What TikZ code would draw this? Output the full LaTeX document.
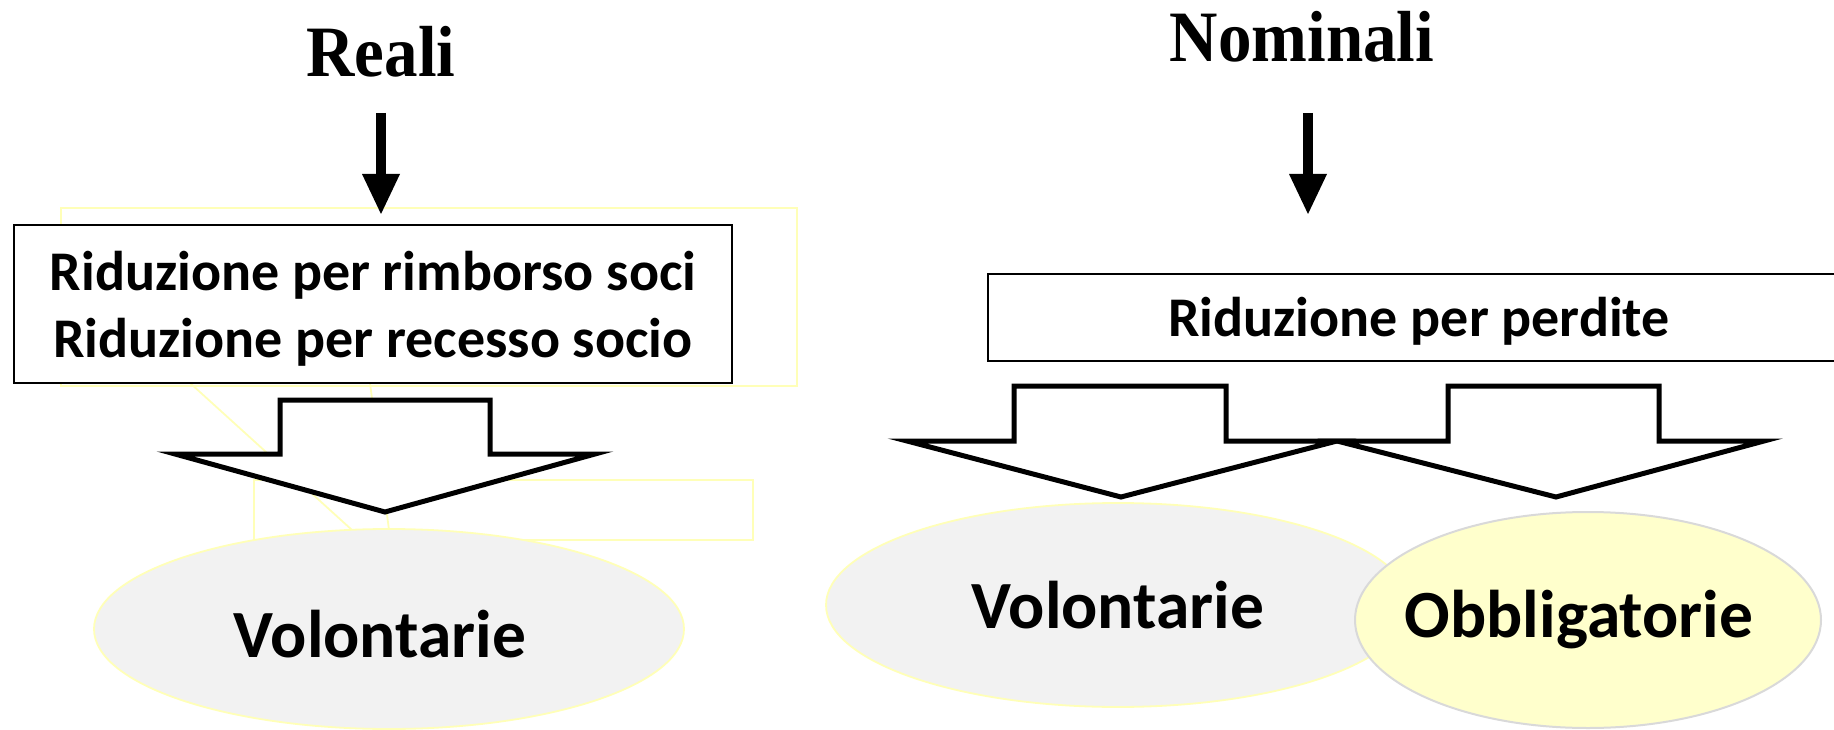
\documentclass[tikz,border=0pt]{standalone}
\usepackage{fontspec}
\setmainfont{Liberation Serif}
\newfontfamily\carlito{Carlito}
\usetikzlibrary{arrows.meta,shapes.geometric}
\definecolor{faint}{HTML}{FFFFB8}
\definecolor{ovalgray}{HTML}{F2F2F2}
\definecolor{ovalyellow}{HTML}{FFFFCC}
\definecolor{ovalborder}{HTML}{D9D9D9}
\begin{document}
\begin{tikzpicture}[x=1pt,y=-1pt,
  ttl/.style={font=\fontsize{67}{72}\selectfont\bfseries, inner sep=0pt, anchor=base},
  txtbox/.style={draw=black, line width=2pt, fill=white, inner sep=0pt},
  boxtext/.style={font=\carlito\bfseries\fontsize{56}{67}\selectfont, align=center, inner sep=0pt},
  thinarrow/.style={line width=10pt, -{Triangle[width=38pt,length=40pt,line width=0pt]}},
  block/.style={draw=black, line width=5pt, fill=white, line join=miter},
  oval/.style={ellipse, inner sep=0pt},
  ovaltext/.style={inner sep=0pt, font=\carlito\bfseries\fontsize{67.5}{70}\selectfont},
  ghost/.style={draw=faint, line width=1.8pt}
]
\useasboundingbox (0,0) rectangle (1834,730);

% faint background artefacts (left)
\draw[ghost] (61,208) rectangle (797,386);
\draw[ghost] (254,480) rectangle (753,540);
\coordinate (g1a) at (190,383);
\coordinate (g1b) at (352,530);
\coordinate (g2a) at (370,383);
\coordinate (g2b) at (389,530);
\draw[ghost] (g1a) -- (g1b);
\draw[ghost] (g2a) -- (g2b);

% titles
\node[ttl] (reali) at (381,77) {\scalebox{1}[1.08]{Reali}};
\node[ttl] (nominali) at (1302,62) {\scalebox{1}[1.08]{Nominali}};

% thin arrows
\coordinate (ra) at (381,113);
\coordinate (rb) at (381,214);
\coordinate (na) at (1308,113);
\coordinate (nb) at (1308,214);
\draw[thinarrow] (ra) -- (rb);
\draw[thinarrow] (na) -- (nb);

% boxes
\node[txtbox, minimum width=718pt, minimum height=158pt] (box1) at (373,304) {};
\node[boxtext] (box1t) at (373,309)
  {Riduzione per rimborso soci\\Riduzione per recesso socio};
\node[txtbox, minimum width=862pt, minimum height=87pt] (box2) at (1419,317.5) {};
\node[boxtext] (box2t) at (1419,321) {Riduzione per perdite};

% block arrows
\draw[block] (280,400) -- (490,400) -- (490,454) -- (595,454) -- (385,512)
  -- (175,454) -- (280,454) -- cycle;
\draw[block] (1014,386) -- (1226,386) -- (1226,441) -- (1337,441) -- (1121,497)
  -- (907,441) -- (1014,441) -- cycle;
\draw[block] (1448,386) -- (1659,386) -- (1659,441) -- (1764,441) -- (1556,497)
  -- (1337,441) -- (1448,441) -- cycle;

% ovals
\node[oval, fill=ovalgray, draw=faint, line width=1.8pt,
  minimum width=590pt, minimum height=200pt] (vol1) at (389,629) {};
\node[ovaltext] (vol1t) at (380,634) {Volontarie};
\node[oval, fill=ovalgray, draw=faint, line width=1.8pt,
  minimum width=584pt, minimum height=204pt] (vol2) at (1118,605) {};
\node[ovaltext] (vol2t) at (1118,605) {Volontarie};
\node[oval, fill=ovalyellow, draw=ovalborder, line width=2pt,
  minimum width=466pt, minimum height=216pt] (obb) at (1588,620) {};
\node[ovaltext] (obbt) at (1579,620) {Obbligatorie};
\end{tikzpicture}
\end{document}
